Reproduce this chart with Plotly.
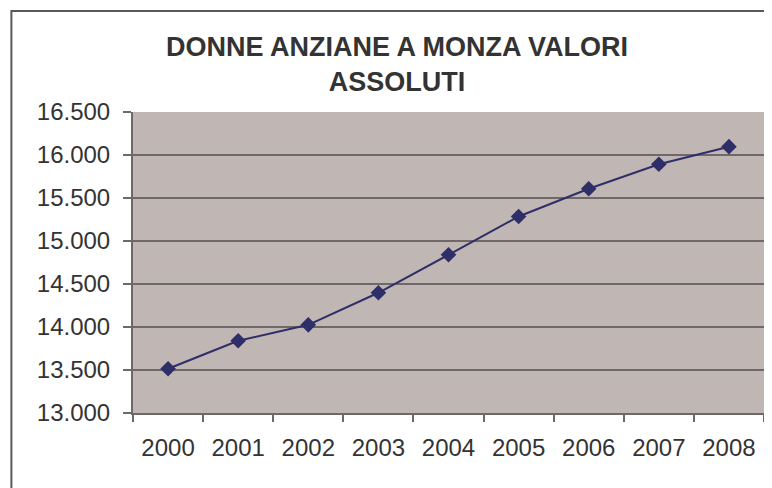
import plotly.graph_objects as go

years = ["2000", "2001", "2002", "2003", "2004", "2005", "2006", "2007", "2008"]
donne_anziane = [13515, 13840, 14025, 14398, 14840, 15285, 15607, 15892, 16097]
y_ticks = [13000, 13500, 14000, 14500, 15000, 15500, 16000, 16500]
title_text = "DONNE ANZIANE A MONZA VALORI<br>ASSOLUTI"

# page body has an 8px margin; the figure is sized to fit the window
W, H = 764, 480
L, R, T, B = 125, 6, 104, 75
pw, ph = W - L - R, H - T - B

fig = go.Figure()
fig.add_trace(go.Scatter(
    x=years, y=donne_anziane, mode="lines+markers",
    line=dict(color="#2E2F68", width=2),
    marker=dict(symbol="diamond", size=12, color="#2E2F68"),
    showlegend=False, cliponaxis=False,
))

def px_x(p):
    return (p - L) / pw

def px_y(p):
    return (H - B - p) / ph

fig.add_shape(type="rect", xref="paper", yref="paper",
              x0=px_x(3), x1=px_x(790), y0=px_y(500), y1=px_y(3),
              line=dict(color="#595959", width=2), fillcolor="rgba(0,0,0,0)")

fig.update_layout(
    width=W, height=H,
    margin=dict(l=L, r=R, t=T, b=B),
    paper_bgcolor="white",
    plot_bgcolor="#C0B6B4",
    separators=",.",
    font=dict(family="Arial, Liberation Sans, sans-serif", color="#333333"),
    title=dict(text=title_text, x=389 / W, xanchor="center", xref="container",
               y=1 - 48 / H, yanchor="middle", yref="container",
               font=dict(size=27, color="#333333", family="Arial, Liberation Sans, sans-serif", weight="bold")),
)
fig.update_yaxes(
    range=[13000, 16500], tickvals=y_ticks, tickformat=",.0f",
    showgrid=True, gridcolor="#6E6868", gridwidth=2,
    showline=True, linecolor="#6E6868", linewidth=2, mirror=True,
    ticks="outside", ticklen=8, tickcolor="#6E6868", tickwidth=2,
    tickfont=dict(size=24, color="#333333"), ticklabelstandoff=8,
    zeroline=False,
)
fig.update_xaxes(
    type="category", range=[-0.5, 8.5],
    showgrid=False, showline=True, linecolor="#6E6868", linewidth=2,
    ticks="outside", tickson="boundaries", ticklen=7, tickcolor="#6E6868", tickwidth=2,
    tickfont=dict(size=24, color="#333333"), ticklabelstandoff=12,
)

fig.write_html("out.html")
